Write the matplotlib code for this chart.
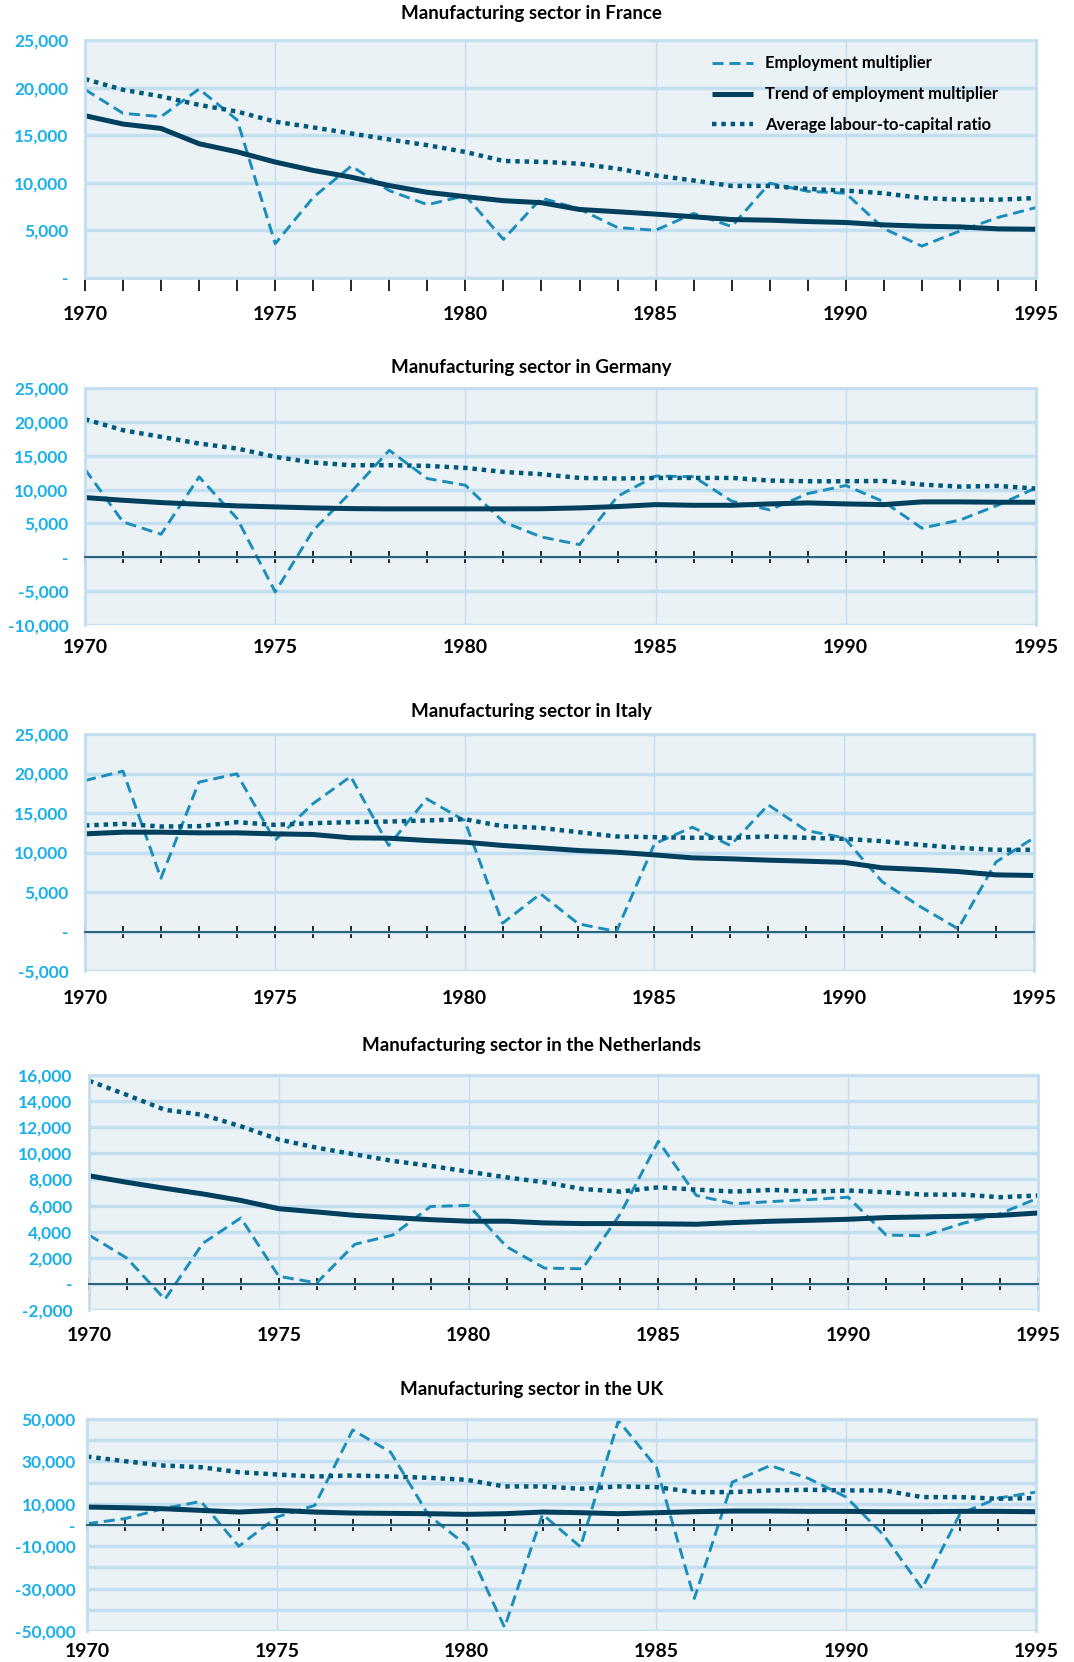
import matplotlib
matplotlib.use("Agg")
import matplotlib.pyplot as plt
from matplotlib.ticker import FuncFormatter, MultipleLocator, NullLocator

# employment multiplier charts, manufacturing sector, 1970-1995

years = list(range(1970, 1996))

france_emp = [19800, 17300, 16950, 19850, 16600, 3600, 8470, 11760, 9180, 7700, 8650, 4060, 8400,
              7240, 5300, 5010, 6780, 5400, 9960, 9110, 8900, 5190, 3350, 4940, 6360, 7400]
france_trend = [17050, 16170, 15710, 14100, 13250, 12180, 11300, 10590, 9710, 9000, 8550, 8120, 7910,
                7200, 6960, 6710, 6430, 6140, 6070, 5930, 5830, 5580, 5440, 5370, 5160, 5120]
france_ratio = [20900, 19770, 19070, 18180, 17480, 16420, 15820, 15180, 14550, 13950, 13240, 12290, 12200,
                12010, 11480, 10770, 10240, 9670, 9670, 9360, 9180, 8900, 8400, 8230, 8230, 8400]

germany_emp = [13000, 5220, 3400, 11870, 5710, -5120, 3990, 9660, 15800, 11630, 10640, 5220, 3000,
               1870, 9000, 12000, 11900, 8300, 7000, 9400, 10600, 8200, 4300, 5500, 7700, 10250]
germany_trend = [8820, 8420, 8080, 7830, 7590, 7440, 7290, 7190, 7150, 7150, 7150, 7150, 7170,
                 7290, 7490, 7780, 7680, 7680, 7880, 8030, 7880, 7780, 8180, 8180, 8130, 8130]
germany_ratio = [20390, 18770, 17780, 16800, 16060, 14830, 13990, 13600, 13600, 13500, 13200, 12610, 12270,
                 11720, 11630, 11720, 11720, 11720, 11330, 11230, 11230, 11280, 10740, 10440, 10540, 10150]

italy_emp = [19110, 20300, 6750, 18900, 19960, 11520, 16160, 19620, 10890, 16790, 14050, 1050, 4770,
             970, 0, 11100, 13200, 10890, 16030, 12780, 11860, 6300, 3160, 340, 8800, 11860]
italy_trend = [12360, 12570, 12570, 12490, 12490, 12360, 12280, 11860, 11810, 11520, 11310, 10890, 10590,
               10250, 10040, 9700, 9320, 9200, 9030, 8900, 8750, 8060, 7850, 7590, 7170, 7090]
italy_ratio = [13420, 13630, 13290, 13330, 13840, 13500, 13710, 13840, 13920, 14050, 14220, 13330, 13120,
               12570, 12030, 11940, 11860, 11860, 12030, 11860, 11730, 11430, 10970, 10590, 10340, 10340]

nl_emp = [3740, 1970, -1190, 3110, 5050, 580, 80, 3030, 3740, 5930, 6010, 2850, 1210,
          1160, 5380, 10930, 6770, 6140, 6310, 6460, 6640, 3740, 3690, 4620, 5380, 6570]
nl_trend = [8280, 7780, 7320, 6890, 6390, 5760, 5510, 5250, 5080, 4920, 4800, 4800, 4670,
            4620, 4620, 4600, 4570, 4700, 4800, 4870, 4950, 5080, 5130, 5180, 5250, 5430]
nl_ratio = [15560, 14470, 13330, 12950, 12070, 11060, 10430, 9920, 9420, 9040, 8590, 8160, 7780,
            7270, 7070, 7400, 7220, 7070, 7200, 7070, 7150, 7020, 6840, 6840, 6640, 6770]

uk_emp = [630, 2980, 7680, 11130, -10030, 3760, 9250, 44830, 34330, 4550, -9560, -48280, 5020,
          -10340, 49220, 27270, -34640, 20220, 28060, 22000, 13170, -5000, -29940, 5330, 12700, 15520]
uk_trend = [8460, 8150, 7680, 6900, 6110, 6900, 6110, 5640, 5490, 5330, 5020, 5330, 6110,
            5800, 5330, 5800, 6270, 6580, 6580, 6430, 6430, 6270, 6270, 6430, 6430, 6270]
uk_ratio = [32290, 30090, 28060, 27270, 24920, 23820, 22880, 23350, 22880, 22260, 21320, 18180, 18180,
            17080, 18180, 17870, 15520, 15520, 16300, 16610, 16300, 16300, 13170, 13170, 12380, 12700]

uk_labelled = [50000, 30000, 10000, 0, -10000, -30000, -50000]

series_names = ["Employment multiplier", "Trend of employment multiplier", "Average labour-to-capital ratio"]

# colours
BG = "#EAF2F6"
GRID = "#C3DEEE"
C_EMP = "#1B8DBB"
C_TREND = "#003F5E"
C_RATIO = "#00587A"
C_YLAB = "#19B0EA"
ZERO = "#1E5670"

plt.rcParams["font.family"] = ["Lato", "DejaVu Sans"]
plt.rcParams["font.weight"] = "bold"

W, H = 1074, 1662
fig = plt.figure(figsize=(W / 100, H / 100), dpi=100)

# title, data, ylim, step, box (left, top, right, bottom px), title y px, x label pad, y label pad
panels = [
    ("Manufacturing sector in France", france_emp, france_trend, france_ratio,
     (0, 25000), 5000, (85, 40, 1036, 278), 14, 20.5, 12),
    ("Manufacturing sector in Germany", germany_emp, germany_trend, germany_ratio,
     (-10000, 25000), 5000, (85, 388, 1036, 625), 367, 10, 12),
    ("Manufacturing sector in Italy", italy_emp, italy_trend, italy_ratio,
     (-5000, 25000), 5000, (85, 734, 1034, 971), 711, 13.5, 12),
    ("Manufacturing sector in the Netherlands", nl_emp, nl_trend, nl_ratio,
     (-2000, 16000), 2000, (89, 1075, 1038, 1310), 1046, 12.5, 12),
    ("Manufacturing sector in the UK", uk_emp, uk_trend, uk_ratio,
     (-50000, 50000), 10000, (87, 1419, 1036, 1631), 1389, 8.5, 8),
]


def make_fmt(only=None):
    def f(v, pos):
        if only is not None and round(v) not in only:
            return ""
        if abs(v) < 1:
            return "-"
        return f"{v:,.0f}"
    return FuncFormatter(f)


for i, (title, emp, trend, ratio, ylim, step, box, ty, xpad, ypad) in enumerate(panels):
    l, t, r, b = box
    ax = fig.add_axes([l / W, 1 - b / H, (r - l) / W, (b - t) / H])
    ax.set_facecolor(BG)

    ax.plot(years, emp, color=C_EMP, lw=2.1, dashes=(3.8, 2), label=series_names[0])
    ax.plot(years, trend, color=C_TREND, lw=3.6, solid_capstyle="butt", label=series_names[1])
    ax.plot(years, ratio, color=C_RATIO, lw=3.2, dashes=(1, 1.1), dash_capstyle="butt",
            label=series_names[2])

    ax.set_xlim(1970, 1995)
    ax.set_ylim(ylim)
    ax.yaxis.set_major_locator(MultipleLocator(step))
    ax.yaxis.set_major_formatter(make_fmt(uk_labelled if "UK" in title else None))
    ax.xaxis.set_major_locator(MultipleLocator(5))
    ax.xaxis.set_minor_locator(MultipleLocator(1))

    ax.set_axisbelow(True)
    ax.grid(axis="y", color=GRID, lw=2.5)
    ax.grid(axis="x", which="major", color=GRID, lw=1)

    for s in ax.spines.values():
        s.set_color(GRID)
        s.set_linewidth(2)

    # ticks sit on the zero line, labels go under the plot
    if ylim[0] < 0:
        ax.spines["bottom"].set_position(("data", 0))
        ax.spines["bottom"].set_color(ZERO)
        ax.spines["bottom"].set_linewidth(1.3)
        ax.spines["bottom"].set_zorder(3)
        direction = "inout"
    else:
        direction = "out"
    ax.tick_params(axis="x", which="both", direction=direction, length=9, width=1.2,
                   color="black", labelbottom=False)
    ax.tick_params(axis="y", length=0, labelcolor=C_YLAB, labelsize=12.5, pad=ypad)
    for lab in ax.get_yticklabels():
        lab.set_fontweight("bold")

    sec = ax.secondary_xaxis(0)
    sec.set_xticks(list(range(1970, 1996, 5)))
    sec.xaxis.set_minor_locator(NullLocator())
    sec.tick_params(length=0, pad=xpad, labelsize=14, labelcolor="black")
    for s in sec.spines.values():
        s.set_visible(False)

    fig.text(0.495, 1 - ty / H, title, ha="center", va="center", fontsize=13.5,
             fontweight="bold", color="black")

    if i == 0:
        ax.legend(loc="upper left", bbox_to_anchor=(0.659, 0.935), frameon=False,
                  fontsize=11.9, handlelength=2.5, handletextpad=0.7, labelspacing=0.9,
                  borderpad=0, borderaxespad=0)

fig.savefig("out.png", dpi=100)
